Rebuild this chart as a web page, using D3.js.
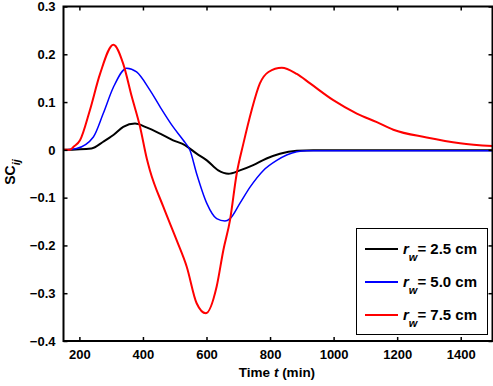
<!DOCTYPE html>
<html>
<head>
<meta charset="utf-8">
<script src="https://cdn.jsdelivr.net/npm/d3@7"></script>
<style>
  body { margin: 0; background: #fff; }
  svg { display: block; font-family: "Liberation Sans", Arial, sans-serif; font-weight: bold; }
</style>
</head>
<body>
<div id="chart"></div>
<script>
// data
const xTicks = [200, 400, 600, 800, 1000, 1200, 1400];
const yTicks = [-0.4, -0.3, -0.2, -0.1, 0, 0.1, 0.2, 0.3];

const timeBlack = [150, 238, 275, 307, 338, 375, 411, 454, 495, 532, 569, 601, 637, 669, 705, 747, 789, 831, 884, 936, 1000, 1200, 1500];
const scBlack   = [0, 0.003, 0.017, 0.031, 0.048, 0.055, 0.047, 0.034, 0.020, 0.010, -0.008, -0.022, -0.043, -0.050, -0.043, -0.032, -0.018, -0.008, -0.002, -0.001, -0.001, -0.001, -0.001];

const timeBlue = [150, 191, 244, 275, 307, 349, 380, 422, 454, 495, 527, 548, 569, 601, 632, 658, 674, 705, 737, 779, 821, 884, 915, 1000, 1200, 1500];
const scBlue   = [0, 0.003, 0.027, 0.076, 0.131, 0.171, 0.163, 0.125, 0.090, 0.048, 0.020, -0.001, -0.050, -0.112, -0.144, -0.149, -0.144, -0.112, -0.078, -0.043, -0.022, -0.004, -0.002, -0.002, -0.002, -0.002];

const timeRed = [150, 170, 181, 202, 233, 265, 307, 338, 365, 391, 412, 422, 464, 506, 538, 569, 598, 632, 653, 674, 695, 716, 742, 768, 795, 837, 884, 926, 999, 1073, 1136, 1188, 1293, 1398, 1500];
const scRed   = [0, 0, 0.006, 0.020, 0.083, 0.159, 0.220, 0.180, 0.111, 0.048, -0.018, -0.043, -0.119, -0.189, -0.245, -0.321, -0.342, -0.286, -0.210, -0.147, -0.050, 0.013, 0.083, 0.139, 0.163, 0.172, 0.159, 0.139, 0.104, 0.076, 0.058, 0.042, 0.026, 0.014, 0.008];

const seriesNames = ["2.5", "5.0", "7.5"];
const seriesColors = ["#000000", "#0000ff", "#ff0000"];

const width = 493, height = 386;
const svg = d3.select("#chart").append("svg")
    .attr("width", width)
    .attr("height", height);

const x = d3.scaleLinear().domain([150, 1500]).range([63.5, 492.5]);
const y = d3.scaleLinear().domain([-0.4, 0.3]).range([341, 6.5]);

// lines
const line = d3.line()
    .x(d => x(d[0]))
    .y(d => y(d[1]))
    .curve(d3.curveMonotoneX);

const series = [
    { t: timeBlack, v: scBlack, w: 2 },
    { t: timeBlue, v: scBlue, w: 1.5 },
    { t: timeRed, v: scRed, w: 2 }
];

series.forEach((s, i) => {
    svg.append("path")
        .datum(d3.zip(s.t, s.v))
        .attr("fill", "none")
        .attr("stroke", seriesColors[i])
        .attr("stroke-width", s.w)
        .attr("d", line);
});

// axes (ticks point inward)
const fmtY = d => d === 0 ? "0" : d3.format(".1f")(d);

svg.append("g")
    .attr("transform", `translate(0,${y(-0.4)})`)
    .call(d3.axisBottom(x).tickValues(xTicks).tickSize(-4).tickSizeOuter(0).tickPadding(9).tickFormat(d3.format("d")));
svg.append("g")
    .attr("transform", `translate(0,${y(0.3)})`)
    .call(d3.axisTop(x).tickValues(xTicks).tickSize(-4).tickSizeOuter(0).tickFormat(""));

svg.append("g")
    .attr("transform", `translate(${x(150)},0)`)
    .call(d3.axisLeft(y).tickValues(yTicks).tickSize(-4).tickSizeOuter(0).tickPadding(8).tickFormat(fmtY));
svg.append("g")
    .attr("transform", `translate(${x(1500)},0)`)
    .call(d3.axisRight(y).tickValues(yTicks).tickSize(-4).tickSizeOuter(0).tickFormat(""));

svg.selectAll(".domain").remove();
svg.selectAll(".tick line").attr("stroke", "#000").attr("stroke-width", 1.5);
svg.selectAll(".tick text")
    .attr("fill", "#000")
    .style("font-size", "13px")
    .style("font-weight", "bold")
    .style("font-family", "'Liberation Sans', Arial, sans-serif");

// frame
svg.append("rect")
    .attr("x", x(150))
    .attr("y", y(0.3))
    .attr("width", x(1500) - x(150))
    .attr("height", y(-0.4) - y(0.3))
    .attr("fill", "none")
    .attr("stroke", "#000")
    .attr("stroke-width", 2);

// axis labels
const xl = svg.append("text")
    .attr("x", 277)
    .attr("y", 377)
    .attr("text-anchor", "middle")
    .style("font-size", "13.5px");
xl.append("tspan").text("Time ");
xl.append("tspan").style("font-style", "italic").text("t");
xl.append("tspan").text(" (min)");

const yl = svg.append("text")
    .attr("transform", "translate(15,172) rotate(-90)")
    .attr("text-anchor", "middle")
    .style("font-size", "14px");
yl.append("tspan").text("SC");
yl.append("tspan").attr("dy", 5).style("font-size", "11px").style("font-style", "italic").text("ij");

// legend
const legend = svg.append("g");
legend.append("rect")
    .attr("x", 356.5)
    .attr("y", 228.5)
    .attr("width", 131)
    .attr("height", 106)
    .attr("fill", "#fff")
    .attr("stroke", "#000")
    .attr("stroke-width", 1);

const rowY = [249, 282, 315];
seriesNames.forEach((name, i) => {
    legend.append("line")
        .attr("x1", 365).attr("x2", 398)
        .attr("y1", rowY[i]).attr("y2", rowY[i])
        .attr("stroke", seriesColors[i])
        .attr("stroke-width", 2);
    const t = legend.append("text")
        .attr("x", 403)
        .attr("y", rowY[i] + 5)
        .style("font-size", "15px");
    t.append("tspan").style("font-style", "italic").text("r");
    t.append("tspan").attr("dy", 7).style("font-style", "italic").style("font-size", "11px").text("w");
    t.append("tspan").attr("dy", -7).text(`= ${name} cm`);
});
</script>
</body>
</html>
